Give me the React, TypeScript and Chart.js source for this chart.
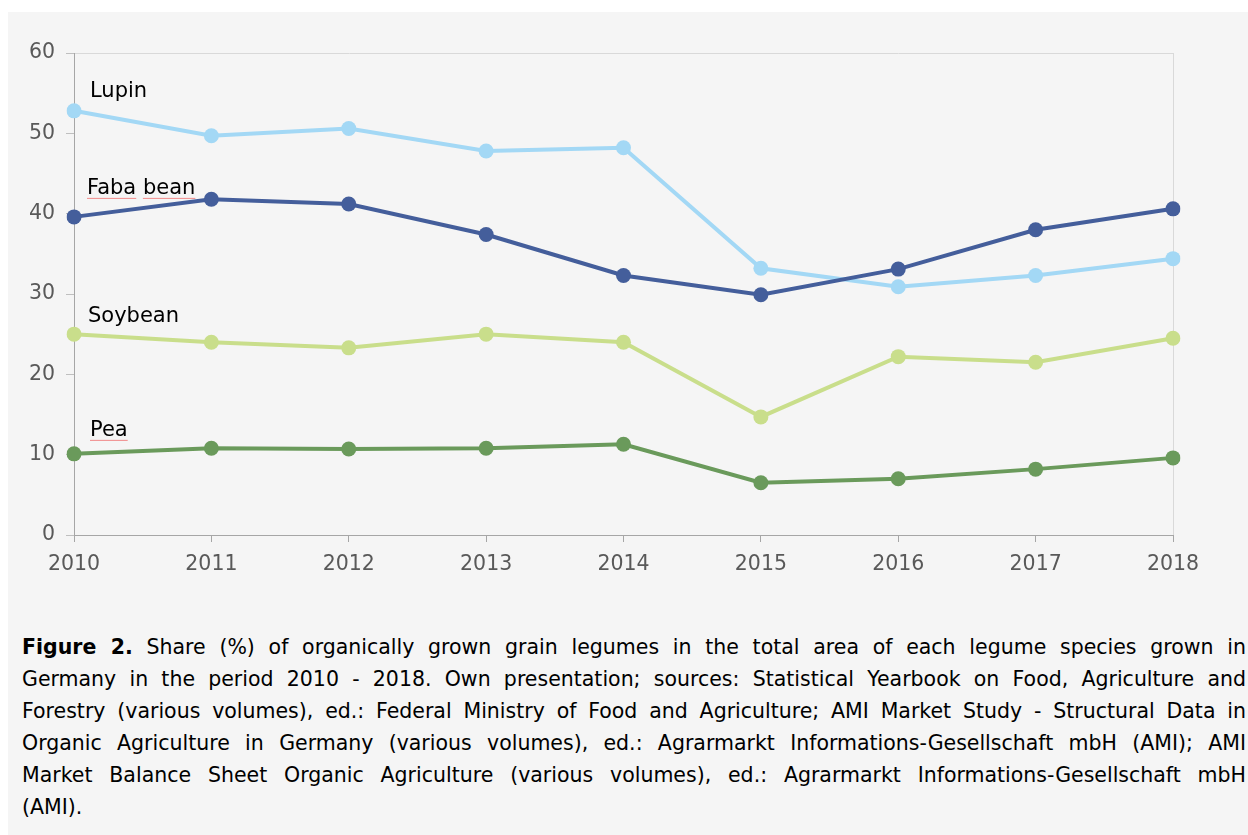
import React, { useEffect, useRef } from "react";
import { Chart, registerables } from "chart.js";

Chart.register(...registerables);

const years = ["2010", "2011", "2012", "2013", "2014", "2015", "2016", "2017", "2018"];
const fabaBean = [39.6, 41.8, 41.2, 37.4, 32.3, 29.9, 33.1, 38.0, 40.6];
const lupin = [52.8, 49.7, 50.6, 47.8, 48.2, 33.2, 30.9, 32.3, 34.4];
const soybean = [25.0, 24.0, 23.3, 25.0, 24.0, 14.7, 22.2, 21.5, 24.5];
const pea = [10.1, 10.8, 10.7, 10.8, 11.3, 6.5, 7.0, 8.2, 9.6];

const seriesNames = ["Faba bean", "Lupin", "Soybean", "Pea"];
const seriesColors = ["#445e9b", "#a3d8f5", "#c9de8b", "#6a9a5b"];
const labelOffsets = [
  [13, -28],
  [16, -19],
  [14, -18],
  [16, -23],
];
const labelUnderlined = [true, false, false, true];

const yTicks = { min: 0, max: 60, step: 10 };

const captionLines = [
  "Share (%) of organically grown grain legumes in the total area of each legume species grown in",
  "Germany in the period 2010 - 2018. Own presentation; sources: Statistical Yearbook on Food, Agriculture and",
  "Forestry (various volumes), ed.: Federal Ministry of Food and Agriculture; AMI Market Study - Structural Data in",
  "Organic Agriculture in Germany (various volumes), ed.: Agrarmarkt Informations-Gesellschaft mbH (AMI); AMI",
  "Market Balance Sheet Organic Agriculture (various volumes), ed.: Agrarmarkt Informations-Gesellschaft mbH",
  "(AMI).",
];

const FONT = "'DejaVu Sans', Verdana, sans-serif";

const seriesLabelPlugin = {
  id: "seriesLabels",
  afterDatasetsDraw(chart: any) {
    const ctx = chart.ctx;
    ctx.save();
    ctx.font = `21px ${FONT}`;
    ctx.fillStyle = "#000000";
    ctx.textBaseline = "middle";
    ctx.textAlign = "left";
    chart.data.datasets.forEach((ds: any, i: number) => {
      const meta = chart.getDatasetMeta(i);
      const p = meta.data[0];
      if (!p) return;
      const x = p.x + labelOffsets[i][0];
      const y = p.y + labelOffsets[i][1];
      ctx.fillText(ds.label, x, y);
      if (labelUnderlined[i]) {
        ctx.strokeStyle = "rgba(240,110,110,0.8)";
        ctx.lineWidth = 1;
        let cx = x;
        const words = ds.label.split(" ");
        words.forEach((w: string, wi: number) => {
          const ww = ctx.measureText(w).width;
          ctx.beginPath();
          ctx.moveTo(cx, y + 9.5);
          ctx.lineTo(cx + ww, y + 9.5);
          ctx.stroke();
          cx += ww + (wi < words.length - 1 ? ctx.measureText(" ").width : 0);
        });
      }
    });
    ctx.restore();
  },
};

export default function App() {
  const canvasRef = useRef<HTMLCanvasElement | null>(null);

  useEffect(() => {
    if (!canvasRef.current) return;
    const allData = [fabaBean, lupin, soybean, pea];
    const chart = new Chart(canvasRef.current, {
      type: "line",
      data: {
        labels: years,
        datasets: allData.map((d, i) => ({
          label: seriesNames[i],
          data: d,
          borderColor: seriesColors[i],
          backgroundColor: seriesColors[i],
          pointBackgroundColor: seriesColors[i],
          pointBorderWidth: 0,
          pointRadius: 7.5,
          borderWidth: 4,
          tension: 0,
          fill: false,
        })),
      },
      options: {
        animation: false,
        responsive: false,
        devicePixelRatio: 1,
        layout: { padding: { top: 41, right: 75, left: 0, bottom: 0 } },
        plugins: {
          legend: { display: false },
          tooltip: { enabled: false },
        },
        scales: {
          x: {
            type: "category",
            offset: false,
            afterFit: (s: any) => {
              s.height = 67;
            },
            grid: {
              color: (c: any) => (c.index === years.length - 1 ? "#d9d9d9" : "rgba(0,0,0,0)"),
              tickColor: "#a6a6a6",
              tickLength: 7,
              lineWidth: 1,
            },
            border: { color: "#a6a6a6", width: 1 },
            ticks: {
              color: "#595959",
              font: { family: FONT, size: 20.5 },
              padding: 10,
              maxRotation: 0,
            },
          },
          y: {
            min: yTicks.min,
            max: yTicks.max,
            afterFit: (s: any) => {
              s.width = 66;
            },
            grid: {
              color: (c: any) => (c.tick && c.tick.value === yTicks.max ? "#d9d9d9" : "rgba(0,0,0,0)"),
              tickColor: "#bfbfbf",
              tickLength: 8,
              lineWidth: 1,
            },
            border: { color: "#a6a6a6", width: 1 },
            ticks: {
              stepSize: yTicks.step,
              color: "#595959",
              font: { family: FONT, size: 20.5 },
              padding: 11,
            },
          },
        },
      },
      plugins: [seriesLabelPlugin],
    });
    return () => chart.destroy();
  }, []);

  return (
    <div
      style={{
        position: "absolute",
        left: 8,
        top: 12,
        width: 1240,
        height: 823,
        background: "#f5f5f5",
        fontFamily: FONT,
      }}
    >
      <canvas
        ref={canvasRef}
        width={1240}
        height={590}
        style={{ position: "absolute", left: 0, top: 0, width: 1240, height: 590 }}
      />
      <div
        style={{
          position: "absolute",
          left: 14,
          top: 619,
          width: 1224,
          fontSize: 20.5,
          lineHeight: "32px",
          color: "#000",
        }}
      >
        {captionLines.map((line, i) => (
          <div
            key={i}
            style={{
              textAlign: "justify",
              textAlignLast: i < captionLines.length - 1 ? "justify" : "left",
              whiteSpace: "normal",
            }}
          >
            {i === 0 ? (
              <>
                <b>Figure 2.</b> {line}
              </>
            ) : (
              line
            )}
          </div>
        ))}
      </div>
    </div>
  );
}
